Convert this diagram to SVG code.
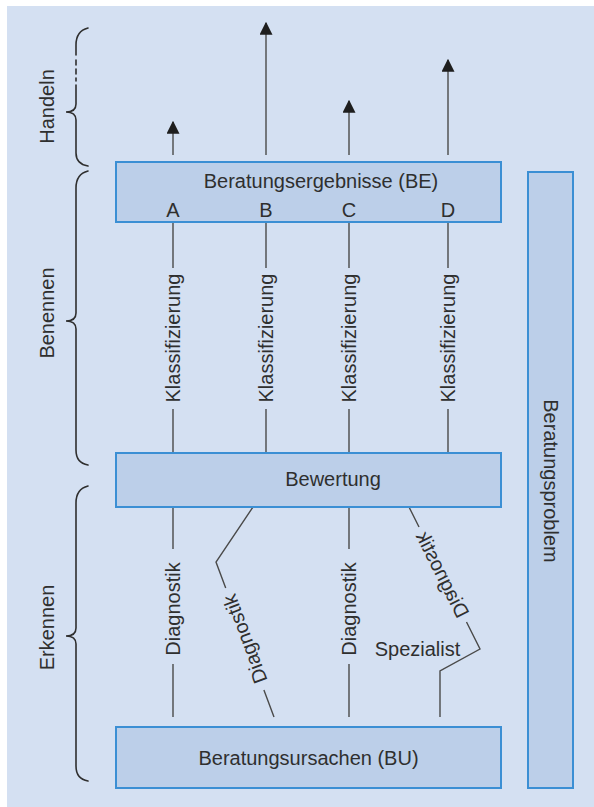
<svg xmlns="http://www.w3.org/2000/svg" width="594" height="807" viewBox="0 0 594 807">
<defs>
<style>
text{font-family:"Liberation Sans",Arial,sans-serif;font-size:20px;fill:#2f2f2f}
.box{fill:#bccfe9;stroke:#3b8fd4;stroke-width:2}
.ln{fill:none;stroke:#4a4a4a;stroke-width:1.4}
.br{fill:none;stroke:#2f2f2f;stroke-width:1.6;stroke-linecap:round}
.mid{text-anchor:middle}
</style>
<marker id="ah" viewBox="0 0 10 10" refX="9" refY="5" markerWidth="13" markerHeight="13" markerUnits="userSpaceOnUse" orient="auto">
<path d="M0,0 L10,5 L0,10 Z" fill="#1e1e1e"/>
</marker>
</defs>
<rect x="0" y="0" width="594" height="807" fill="#ffffff"/>
<rect x="7" y="6" width="587" height="801" fill="#d4e0f2"/>

<g id="brace-handeln">
<path class="br" d="M88,28 Q76,31 76,45 L76,55"/>
<path class="br" d="M76,60 L76,65 M76,69 L76,74 M76,78 L76,81"/>
<path class="br" d="M76,85 L76,104 Q76,112 66,112 Q76,112 76,120 L76,153 Q76,164 88,166"/>
<text class="mid" transform="translate(47,106.5) rotate(-90)" y="7">Handeln</text>
</g>
<g id="brace-benennen">
<path class="br" d="M88,171 Q76,174 76,188 L76,313 Q76,321 66,321 Q76,321 76,329 L76,450 Q76,463 88,465"/>
<text class="mid" transform="translate(47,313) rotate(-90)" y="7">Benennen</text>
</g>
<g id="brace-erkennen">
<path class="br" d="M88,486 Q76,489 76,503 L76,628 Q76,636 66,636 Q76,636 76,644 L76,766 Q76,779 88,781"/>
<text class="mid" transform="translate(47,627.5) rotate(-90)" y="7">Erkennen</text>
</g>

<g id="connectors">
<line class="ln" x1="173" y1="155" x2="173" y2="122" marker-end="url(#ah)"/>
<line class="ln" x1="266" y1="155" x2="266" y2="23" marker-end="url(#ah)"/>
<line class="ln" x1="349" y1="155" x2="349" y2="101" marker-end="url(#ah)"/>
<line class="ln" x1="448" y1="155" x2="448" y2="60" marker-end="url(#ah)"/>

<path class="ln" d="M173,222 V268 M173,409 V453"/>
<path class="ln" d="M266,222 V268 M266,409 V453"/>
<path class="ln" d="M349,222 V268 M349,409 V453"/>
<path class="ln" d="M448,222 V268 M448,409 V453"/>
<text class="mid" transform="translate(173,338) rotate(-90)" y="7">Klassifizierung</text>
<text class="mid" transform="translate(266,338) rotate(-90)" y="7">Klassifizierung</text>
<text class="mid" transform="translate(349,338) rotate(-90)" y="7">Klassifizierung</text>
<text class="mid" transform="translate(448,338) rotate(-90)" y="7">Klassifizierung</text>

<path class="ln" d="M173,507 V549 M173,664 V717"/>
<text class="mid" transform="translate(173,609) rotate(-90)" y="7">Diagnostik</text>

<path class="ln" d="M253,507 L216,562 L225.7,588 M263.9,690 L274,717"/>
<text class="mid" transform="translate(244.8,639) rotate(-110.5)" y="7">Diagnostik</text>

<path class="ln" d="M349,507 V549 M349,664 V717"/>
<text class="mid" transform="translate(349,609) rotate(-90)" y="7">Diagnostik</text>

<path class="ln" d="M409,507 L419,527 M466.5,622 L480,649 L440,671 L440,717"/>
<text class="mid" transform="translate(442.8,574.5) rotate(-116.6) scale(1,-1)" y="7">Diagnostik</text>
<text class="mid" x="417.5" y="656">Spezialist</text>
</g>

<g id="node-be">
<rect class="box" x="116" y="162" width="385" height="60"/>
<text class="mid" x="321" y="188">Beratungsergebnisse (BE)</text>
<text class="mid" x="173" y="217">A</text>
<text class="mid" x="266" y="217">B</text>
<text class="mid" x="349" y="217">C</text>
<text class="mid" x="448" y="217">D</text>
</g>
<g id="node-bewertung">
<rect class="box" x="116" y="453" width="385" height="54"/>
<text class="mid" x="333" y="486">Bewertung</text>
</g>
<g id="node-bu">
<rect class="box" x="116" y="727" width="385" height="61"/>
<text class="mid" x="308.5" y="765">Beratungsursachen (BU)</text>
</g>
<g id="node-problem">
<rect class="box" x="528" y="172" width="45" height="616"/>
<text class="mid" transform="translate(551,481) rotate(90)" y="7">Beratungsproblem</text>
</g>
</svg>
